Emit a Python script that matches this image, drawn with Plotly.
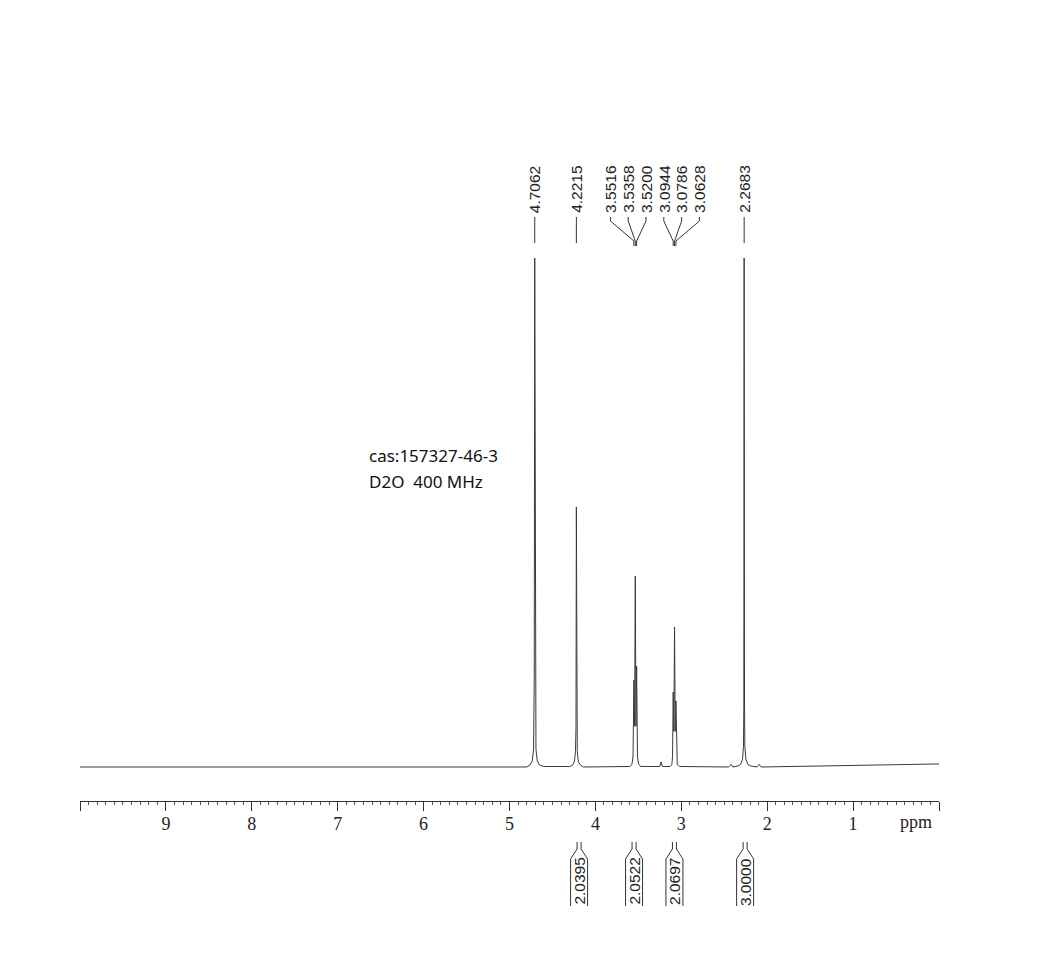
import plotly.graph_objects as go

# ---------------- data ----------------
# spectrum trace (ppm, relative intensity; tallest peak = 100)
spec_ppm = [10.0, 4.80, 4.76, 4.735, 4.72, 4.712, 4.7062, 4.700, 4.692, 4.677, 4.65, 4.60,
            4.30, 4.27, 4.245, 4.232, 4.226, 4.2215, 4.217, 4.211, 4.198, 4.17, 4.14,
            3.60, 3.575, 3.562, 3.5516, 3.5437, 3.5358, 3.5279, 3.5200, 3.510, 3.497, 3.47,
            3.25, 3.235, 3.22,
            3.13, 3.11, 3.102, 3.0944, 3.0865, 3.0786, 3.0707, 3.0628, 3.055, 3.047, 3.02,
            2.45, 2.42, 2.40, 2.34, 2.31, 2.288, 2.276, 2.272, 2.2683, 2.264, 2.260, 2.248,
            2.225, 2.19, 2.12, 2.095, 2.07, 0.0]
spec_int = [0.0, 0.0, 0.4, 1.2, 3.5, 17.0, 100.0, 17.0, 3.5, 1.2, 0.4, 0.1,
            0.1, 0.3, 1.0, 3.0, 8.0, 51.1, 8.0, 3.0, 1.0, 0.3, 0.0,
            0.1, 0.5, 2.0, 17.1, 8.0, 37.5, 8.0, 19.8, 2.0, 0.5, 0.1,
            0.1, 1.0, 0.1,
            0.1, 0.5, 2.0, 14.7, 7.0, 27.5, 7.0, 13.0, 2.0, 0.5, 0.1,
            0.0, 0.5, 0.0, 0.2, 0.5, 1.5, 4.0, 12.0, 100.0, 12.0, 4.0, 1.5,
            0.5, 0.2, 0.0, 0.5, 0.0, 0.6]

# peak picking labels
singlet_peaks = [4.7062, 4.2215, 2.2683]
multiplet_peaks = [3.5516, 3.5358, 3.5200, 3.0944, 3.0786, 3.0628]

# integrals (center ppm, value)
integral_centers = [4.19, 3.55, 3.08, 2.257]
integral_values = ["2.0395", "2.0522", "2.0697", "3.0000"]

tick_vals = [10, 9, 8, 7, 6, 5, 4, 3, 2, 1, 0]
tick_text = ["", "9", "8", "7", "6", "5", "4", "3", "2", "1", ""]

info_lines = ["cas:157327-46-3", "D2O  400 MHz"]

# ---------------- layout helpers ----------------
W, H = 1060, 953
BODY = 8                      # page body margin offset
PLOT_L, PLOT_R = 80, 939      # on-screen plot area (pixels)
PLOT_T, PLOT_B = 150, 801
PW = PLOT_R - PLOT_L
PH = PLOT_B - PLOT_T
ML = PLOT_L - BODY
MT = PLOT_T - BODY
MR = W - ML - PW
MB = H - MT - PH
PX_PER_PPM = PW / 10.0
Y_MIN, Y_MAX = -6.68, 121.22


def py(p):
    """screen pixel y -> paper y"""
    return (PLOT_B - p) / PH


def px(p):
    """screen pixel x -> paper x"""
    return (p - PLOT_L) / PW


def dppm(pixels):
    return pixels / PX_PER_PPM


fig = go.Figure()
fig.add_trace(go.Scatter(x=spec_ppm, y=spec_int, mode="lines",
                         line=dict(color="#3a3a3a", width=1), hoverinfo="skip",
                         showlegend=False))

shapes = []
annotations = []
LINE = dict(color="#333333", width=1)
LABEL_FONT = dict(family="Liberation Sans", size=15.5, color="#222222")

# singlet labels
for p in singlet_peaks:
    annotations.append(dict(x=p, xref="x", y=py(215), yref="paper", text=f"{p:.4f}",
                            textangle=-90, showarrow=False, xanchor="center",
                            yanchor="bottom", font=LABEL_FONT))
    shapes.append(dict(type="line", xref="x", yref="paper", x0=p, x1=p,
                       y0=py(217), y1=py(243), line=LINE))

# multiplet labels (evenly spread around cluster centre)
centre = (multiplet_peaks[0] + multiplet_peaks[-1]) / 2
spacing = dppm(17.8)
n = len(multiplet_peaks)
for k, p in enumerate(multiplet_peaks):
    lx = centre - (k - (n - 1) / 2) * spacing
    annotations.append(dict(x=lx, xref="x", y=py(215), yref="paper", text=f"{p:.4f}",
                            textangle=-90, showarrow=False, xanchor="center",
                            yanchor="bottom", font=LABEL_FONT))
    path = (f"M {lx},{py(217)} L {lx},{py(221)} L {p},{py(241)} L {p},{py(246)}")
    shapes.append(dict(type="path", xref="x", yref="paper", path=path, line=LINE))

# integral brackets
for c, v in zip(integral_centers, integral_values):
    nh, wh = dppm(2.0), dppm(8.5)
    for s in (1, -1):
        path = (f"M {c + s * nh},{py(842)} L {c + s * nh},{py(849)} "
                f"L {c + s * wh},{py(859)} L {c + s * wh},{py(906)}")
        shapes.append(dict(type="path", xref="x", yref="paper", path=path, line=LINE))
    annotations.append(dict(x=c, xref="x", y=py(856), yref="paper", text=v,
                            textangle=-90, showarrow=False, xanchor="center",
                            yanchor="top", font=LABEL_FONT))

# ppm unit label
annotations.append(dict(x=px(916), xref="paper", y=py(822), yref="paper", text="ppm",
                        showarrow=False, xanchor="center", yanchor="middle",
                        font=dict(family="Liberation Serif", size=18, color="#222222")))

# sample info
for i, t in enumerate(info_lines):
    annotations.append(dict(x=px(367), xref="paper", y=py(455 + 26 * i), yref="paper",
                            text=t, showarrow=False, xanchor="left", yanchor="middle",
                            font=dict(family="Noto Sans", size=17, color="#111111")))

fig.update_layout(
    width=W, height=H,
    margin=dict(l=ML, r=MR, t=MT, b=MB, pad=0),
    paper_bgcolor="white", plot_bgcolor="white",
    showlegend=False,
    shapes=shapes, annotations=annotations,
    xaxis=dict(range=[10, 0], showgrid=False, zeroline=False, showline=True,
               linecolor="#333333", linewidth=1, ticks="outside", ticklen=9,
               tickwidth=1, tickcolor="#333333", tickmode="array",
               tickvals=tick_vals, ticktext=tick_text, ticklabelstandoff=-3,
               tickfont=dict(family="Liberation Serif", size=18, color="#222222"),
               minor=dict(tickmode="linear", tick0=0, dtick=0.1, ticks="outside",
                          ticklen=3, tickwidth=1, tickcolor="#555555", showgrid=False)),
    yaxis=dict(range=[Y_MIN, Y_MAX], visible=False, showgrid=False, zeroline=False),
)

fig.write_html("out.html")
